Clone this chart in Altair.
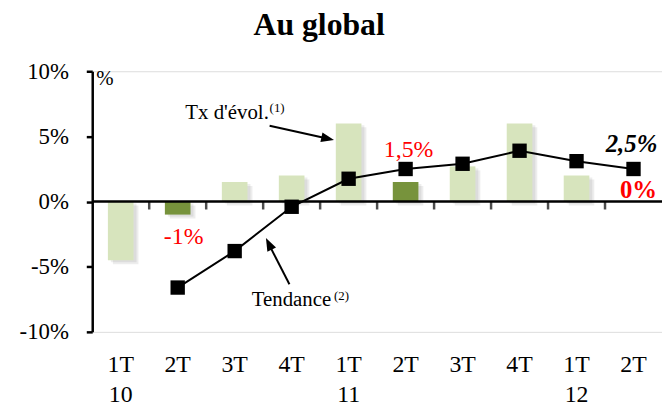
import altair as alt
import pandas as pd

categories = ["1T 10", "2T 10", "3T 10", "4T 10", "1T 11", "2T 11", "3T 11", "4T 11", "1T 12", "2T 12"]
evol = [-4.5, -1.0, 1.5, 2.0, 6.0, 1.5, 2.7, 6.0, 2.0, 0.0]
trend = [None, -6.6, -3.8, -0.4, 1.75, 2.5, 2.9, 3.9, 3.1, 2.5]
highlight = [False, True, False, False, False, True, False, False, False, False]
title_text = "Au global"

SERIF = "Times New Roman, Liberation Serif, serif"
BAND = 575 / len(categories)

df = pd.DataFrame({"cat": categories, "evol": evol, "trend": trend, "hl": highlight})
base = alt.Chart(df)

xenc = alt.X(
    "cat:N", sort=categories,
    scale=alt.Scale(paddingInner=0, paddingOuter=0),
    axis=alt.Axis(
        title=None, domain=False, ticks=False, tickSize=0, labelAngle=0,
        labelFont=SERIF, labelFontSize=24, labelColor="black",
        labelPadding=21, labelLineHeight=30,
        labelExpr="substring(datum.label,0,1)=='1' ? split(datum.label,' ') : split(datum.label,' ')[0]",
    ),
)
yscale = alt.Scale(domain=[-10, 10], nice=False)
yaxis = alt.Axis(
    title=None, values=[-10, -5, 0, 5, 10], labelExpr="datum.value + '%'",
    grid=False, domainColor="black", domainWidth=2.5, tickColor="black",
    tickWidth=2.5, tickSize=6, labelFont=SERIF, labelFontSize=23,
    labelColor="black", labelPadding=18,
)
yev = alt.Y("evol:Q", scale=yscale, axis=yaxis)
ytr = alt.Y("trend:Q", scale=yscale, axis=yaxis)

shadow1 = base.mark_bar(width=alt.RelativeBandSize(0.45), color="black", opacity=0.07, xOffset=5, yOffset=4).encode(x=xenc, y=yev)
shadow2 = base.mark_bar(width=alt.RelativeBandSize(0.45), color="black", opacity=0.07, xOffset=3, yOffset=2).encode(x=xenc, y=yev)
bars = base.mark_bar(width=alt.RelativeBandSize(0.45)).encode(
    x=xenc, y=yev,
    color=alt.Color("hl:N", scale=alt.Scale(domain=[False, True], range=["#d7e4bd", "#77933c"]), legend=None),
)
one = alt.Data(values=[{}])
zero = alt.Chart(one).mark_rule(color="black", strokeWidth=2.5).encode(y=alt.datum(0))
ticks = base.transform_filter(
    alt.datum.cat != categories[-1]
).mark_tick(
    color="black", thickness=2.5, size=8, orient="vertical", xOffset=BAND / 2, yOffset=4
).encode(
    x=alt.X("cat:N", sort=categories), y=alt.datum(0)
)
line = base.mark_line(color="black", strokeWidth=2).encode(x=xenc, y=ytr)
pts = base.mark_point(shape="square", filled=True, size=210, color="black", opacity=1).encode(x=xenc, y=ytr)


def fmt(v):
    return (f"{v:g}").replace(".", ",") + "%"


def txt(**kw):
    return alt.Chart(one).mark_text(font=SERIF, baseline="alphabetic", **kw)


lab_m1 = txt(fontSize=24, color="#ff0000", dx=6, dy=30).encode(
    x=alt.datum(categories[1]), y=alt.datum(evol[1]), text=alt.value(fmt(evol[1])))
lab_15 = txt(fontSize=24, color="#ff0000", dx=3, dy=-25).encode(
    x=alt.datum(categories[5]), y=alt.datum(evol[5]), text=alt.value(fmt(evol[5])))
lab_25 = txt(fontSize=25, fontWeight="bold", fontStyle="italic", color="black", dx=-2, dy=-17).encode(
    x=alt.datum(categories[9]), y=alt.datum(trend[9]), text=alt.value(fmt(trend[9])))
lab_0 = txt(fontSize=25, fontWeight="bold", color="#ff0000", dx=5, dy=-4).encode(
    x=alt.datum(categories[9]), y=alt.datum(evol[9]), text=alt.value(fmt(evol[9])))

title = txt(fontSize=32, fontWeight="bold", color="black", align="center").encode(
    x=alt.value(229), y=alt.value(-37), text=alt.value(title_text))
pct = txt(fontSize=21, color="black", align="left").encode(x=alt.value(4), y=alt.value(14), text=alt.value("%"))
tx = txt(fontSize=21, color="black", align="left").encode(x=alt.value(94), y=alt.value(48), text=alt.value("Tx d'évol."))
tx_sup = txt(fontSize=13, color="black", align="left").encode(x=alt.value(179), y=alt.value(41), text=alt.value("(1)"))
tend = txt(fontSize=21, color="black", align="left").encode(x=alt.value(161), y=alt.value(237), text=alt.value("Tendance"))
tend_sup = txt(fontSize=13, color="black", align="left").encode(x=alt.value(244), y=alt.value(231), text=alt.value("(2)"))

ARROW = "M0,0 L-2,-0.75 L-2,0.75 Z"
arr1 = alt.Chart(one).mark_rule(color="black", strokeWidth=2).encode(
    x=alt.value(179), y=alt.value(55), x2=alt.value(236), y2=alt.value(67.7))
arr1h = alt.Chart(one).mark_point(shape=ARROW, filled=True, size=169, color="black", opacity=1, angle=12.4).encode(
    x=alt.value(244), y=alt.value(69.4))
arr2 = alt.Chart(one).mark_rule(color="black", strokeWidth=2).encode(
    x=alt.value(199), y=alt.value(215), x2=alt.value(179), y2=alt.value(176))
arr2h = alt.Chart(one).mark_point(shape=ARROW, filled=True, size=169, color="black", opacity=1, angle=243.4).encode(
    x=alt.value(175.3), y=alt.value(168.3))

chart = alt.layer(
    shadow1, shadow2, bars, zero, ticks, line, pts,
    lab_m1, lab_15, lab_25, lab_0,
    title, pct, tx, tx_sup, tend, tend_sup, arr1, arr1h, arr2, arr2h,
).properties(
    width=575, height=263,
    padding={"left": 85, "top": 62, "right": 0, "bottom": 75},
    autosize=alt.AutoSizeParams(type="none"),
).configure_view(stroke=None).configure(background="white", font=SERIF).configure_axis(
    labelFont=SERIF, labelColor="black"
)

chart.save("out.html", embed_options={"renderer": "svg", "actions": False})
